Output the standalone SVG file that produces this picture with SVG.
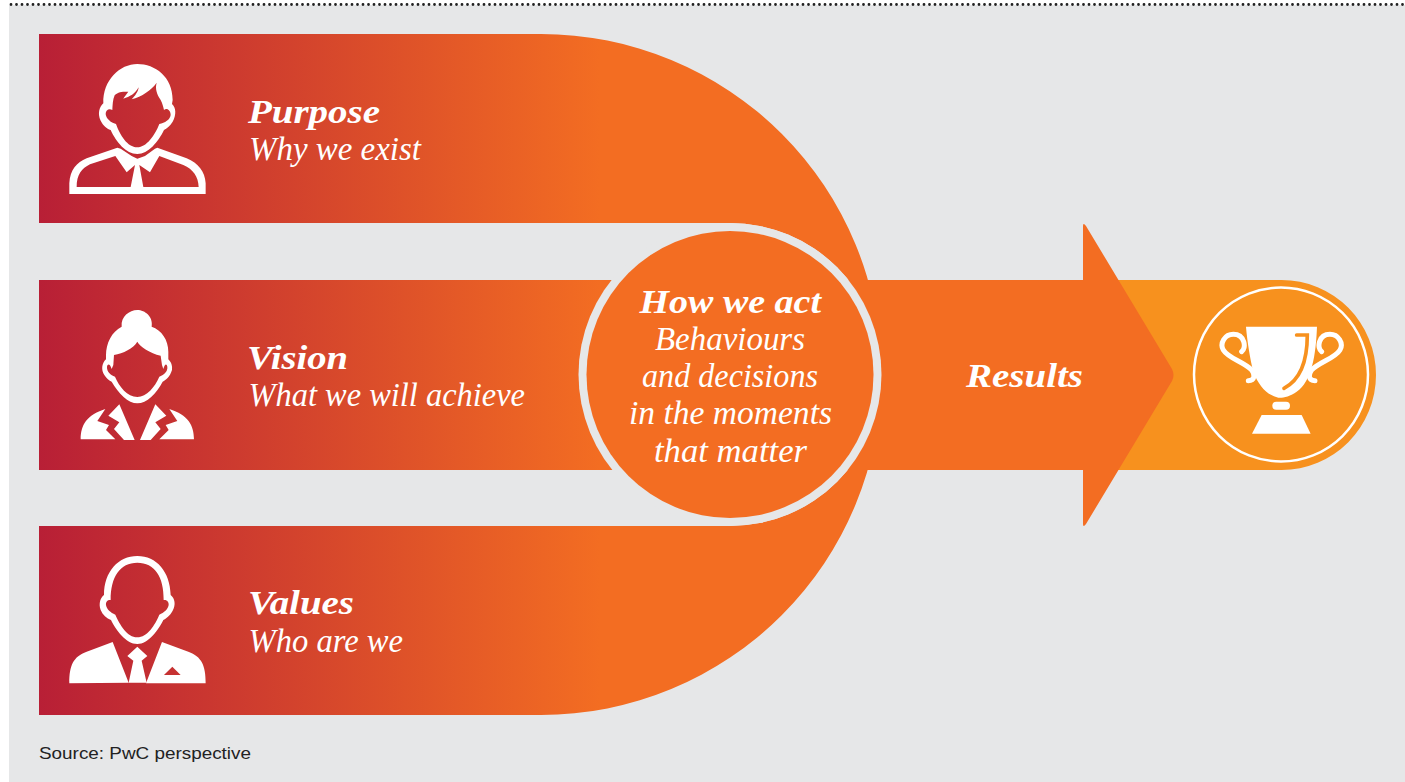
<svg xmlns="http://www.w3.org/2000/svg" width="1405" height="782" viewBox="0 0 1405 782">
<defs>
<linearGradient id="g" gradientUnits="userSpaceOnUse" x1="39" y1="0" x2="600" y2="0"><stop offset="0" stop-color="#b81f36"/><stop offset="1" stop-color="#f36d22"/></linearGradient>
<style>
.hd{font-family:"Liberation Serif",serif;font-style:italic;font-weight:bold;font-size:33px;fill:#fff}
.bd{font-family:"Liberation Serif",serif;font-style:italic;font-size:33px;fill:#fff}
.ic{fill:#fff;fill-rule:evenodd}
</style>
</defs>
<rect x="0" y="0" width="1405" height="782" fill="#fff"/>
<rect x="9" y="5" width="1396" height="777" fill="#e6e7e8"/>
<line x1="11" y1="4.5" x2="1405" y2="4.5" stroke="#222" stroke-width="2.800" stroke-linecap="round" stroke-dasharray="0 5.5"/>
<g id="arms">
<path d="M39 34H541A340.5 340.5 0 0 1 541 715H39V526H730A151.500 151.500 0 0 0 730 223H39Z" fill="url(#g)"/>
<rect x="39" y="280" width="640" height="190" fill="url(#g)"/>
</g>
<g id="results-arrow">
<path d="M1115 280H1281.500A94.500 95 0 0 1 1281.500 470H1115Z" fill="#f7911e"/>
<path d="M840 280H1083V226Q1083 222 1086 226L1172 369Q1175 375 1172 381L1086 524Q1083 528 1083 524V470H840Z" fill="#f36d22"/>
<text class="hd" x="966" y="387" textLength="117" lengthAdjust="spacingAndGlyphs">Results</text>
</g>
<g id="purpose">
<g transform="translate(40 50) scale(.3333)">
<path class="ic" d="M292 42C345 42 398 80 398 150L396 162C408 172 410 195 398 215C390 228 380 235 372 240C355 275 325 312 292 312C258 312 228 275 212 240C200 235 190 228 182 212C172 190 178 172 190 160C188 90 240 42 292 42ZM224 136C235 124 250 125 265 125C258 135 252 142 250 146C270 140 285 132 296 112C295 125 285 138 275 148C305 140 335 120 350 98C345 115 350 132 362 150C368 162 370 172 372 180C380 172 392 180 392 195C390 210 375 218 358 222C345 255 320 292 292 292C262 292 240 255 228 222C212 218 198 205 197 192C197 180 207 175 217 180C218 165 218 150 224 136Z"/>
<path class="ic" d="M88 432V400C90 360 110 338 140 325L232 293L242 296L275 318L292 326L315 318L345 296L352 293L440 325C475 340 495 365 497 400V432ZM110 411H272L285 345L260 367L226 318L150 343C125 355 110 375 110 411ZM310 411H476C475 380 460 358 430 345L358 318L330 367L298 345Z"/>
</g>
<text class="hd" x="248" y="122.500" textLength="132" lengthAdjust="spacingAndGlyphs">Purpose</text>
<text class="bd" x="249" y="160" textLength="172" lengthAdjust="spacingAndGlyphs">Why we exist</text>
</g>
<g id="vision">
<g transform="translate(40 295) scale(.3333)">
<path class="ic" d="M245 95C215 110 198 145 198 180V193C185 205 183 225 193 240C200 250 205 255 215 260C235 295 265 325 292 325C320 325 350 295 368 260C378 255 390 245 396 225C398 210 392 200 385 193V170C385 135 365 105 335 95C340 65 315 45 292 45C268 45 242 65 245 95ZM292 140C300 155 330 175 362 182L366 210L370 222C375 205 380 205 382 215C384 230 370 240 358 245C345 275 320 306 292 306C262 306 238 275 225 245C212 240 200 230 201 215C203 205 210 205 215 222L220 210L222 180C250 175 280 160 292 140Z"/>
<path class="ic" d="M196 342L172 378L207 390L198 405L226 433H122C122 390 140 360 196 342ZM238 328L284 435H252L222 402L238 382L205 362ZM388 342L412 378L377 390L386 405L358 433H462C462 390 444 360 388 342ZM346 328L300 435H332L362 402L346 382L379 362Z"/>
</g>
<text class="hd" x="247" y="369" textLength="101" lengthAdjust="spacingAndGlyphs">Vision</text>
<text class="bd" x="248.500" y="406" textLength="276.500" lengthAdjust="spacingAndGlyphs">What we will achieve</text>
</g>
<g id="values">
<g transform="translate(40 540) scale(.3333)">
<path class="ic" d="M292 48C350 48 390 95 392 165C405 175 408 195 398 212C390 228 378 235 370 240C355 270 325 312 292 312C258 312 228 270 213 240C200 235 188 225 182 210C175 190 182 172 192 165C192 95 235 48 292 48ZM292 68C240 68 212 110 212 180C203 178 197 185 198 195C200 208 212 218 226 224C240 255 262 292 292 292C322 292 345 255 358 224C372 218 384 208 386 195C387 185 380 178 371 180C372 110 344 68 292 68Z"/>
<path class="ic" d="M88 430C88 375 100 350 140 335L218 306L266 428ZM366 306L318 430H497C497 375 485 350 445 335ZM372 405H422L397 380Z"/>
<path class="ic" d="M262 348L292 320L322 348L305 362L320 428H266L280 362Z"/>
</g>
<text class="hd" x="248" y="614" textLength="106" lengthAdjust="spacingAndGlyphs">Values</text>
<text class="bd" x="248.500" y="651.500" textLength="154.500" lengthAdjust="spacingAndGlyphs">Who are we</text>
</g>
<g id="how-we-act">
<circle cx="730" cy="374.500" r="151.500" fill="#e6e7e8"/>
<circle cx="730" cy="374.500" r="143.500" fill="#f36d22"/>
<text class="hd" x="639.500" y="313" textLength="181.500" lengthAdjust="spacingAndGlyphs">How we act</text>
<text class="bd" x="655" y="350" textLength="150" lengthAdjust="spacingAndGlyphs">Behaviours</text>
<text class="bd" x="642" y="387" textLength="176" lengthAdjust="spacingAndGlyphs">and decisions</text>
<text class="bd" x="629" y="424" textLength="203" lengthAdjust="spacingAndGlyphs">in the moments</text>
<text class="bd" x="654" y="462" textLength="153" lengthAdjust="spacingAndGlyphs">that matter</text>
</g>
<g id="trophy">
<circle cx="1281" cy="374.500" r="87" fill="none" stroke="#fff" stroke-width="2.500"/>
<g transform="translate(1070 215) scale(.3333)">
<path fill="none" stroke="#fff" stroke-width="15" stroke-linecap="round" d="M515 410C530 400 525 358 490 358C465 358 448 385 460 405C475 430 520 440 545 465C555 480 555 497 535 497M755 410C740 400 745 358 780 358C805 358 822 385 810 405C795 430 750 440 725 465C715 480 715 497 735 497"/>
<path fill="#fff" d="M528 335H741C738 420 725 500 680 530C660 545 635 550 625 548C590 540 565 510 550 470C540 430 532 380 528 335Z"/>
<path fill="none" stroke="#f7911e" stroke-width="11" stroke-linecap="round" d="M680 360H712C712 420 700 490 642 520"/>
<rect x="607" y="560" width="53" height="24" rx="12" fill="#fff"/>
<path d="M575 600H695L722 656H546Z" fill="#fff"/>
</g>
</g>
<text id="source" x="39" y="759" font-family="Liberation Sans, Arial, sans-serif" font-size="17" fill="#222" textLength="212" lengthAdjust="spacingAndGlyphs">Source: PwC perspective</text>
</svg>
